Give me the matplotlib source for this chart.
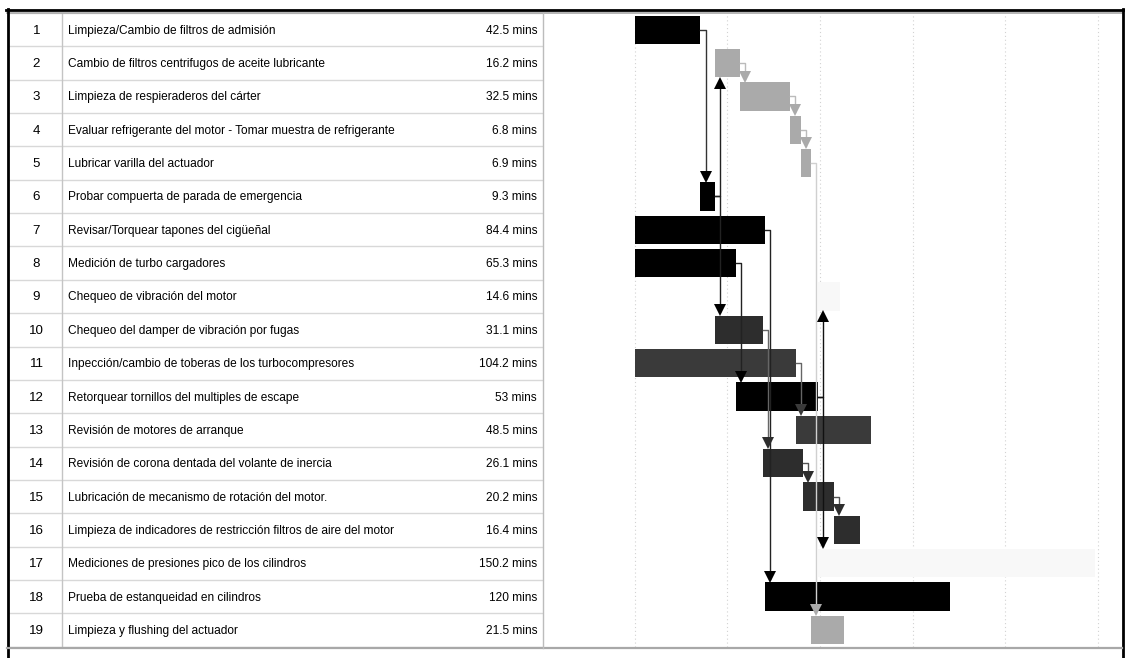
import matplotlib
matplotlib.use("Agg")
import matplotlib.pyplot as plt
from matplotlib.lines import Line2D

plt.rcParams["font.family"] = ["Liberation Sans Narrow", "Liberation Sans", "DejaVu Sans"]

task_ids = list(range(1, 20))
task_names = [
    "Limpieza/Cambio de filtros de admisión",
    "Cambio de filtros centrifugos de aceite lubricante",
    "Limpieza de respieraderos del cárter",
    "Evaluar refrigerante del motor - Tomar muestra de refrigerante",
    "Lubricar varilla del actuador",
    "Probar compuerta de parada de emergencia",
    "Revisar/Torquear tapones del cigüeñal",
    "Medición de turbo cargadores",
    "Chequeo de vibración del motor",
    "Chequeo del damper de vibración por fugas",
    "Inpección/cambio de toberas de los turbocompresores",
    "Retorquear tornillos del multiples de escape",
    "Revisión de motores de arranque",
    "Revisión de corona dentada del volante de inercia",
    "Lubricación de mecanismo de rotación del motor.",
    "Limpieza de indicadores de restricción filtros de aire del motor",
    "Mediciones de presiones pico de los cilindros",
    "Prueba de estanqueidad en cilindros",
    "Limpieza y flushing del actuador",
]
durations = [42.5, 16.2, 32.5, 6.8, 6.9, 9.3, 84.4, 65.3, 14.6, 31.1,
             104.2, 53, 48.5, 26.1, 20.2, 16.4, 150.2, 120, 21.5]
# start of each bar, minutes from the first gridline
starts = [0, 51.8, 68.0, 100.5, 107.3, 42.5, 0, 0, 118.3, 51.8,
          0, 65.3, 104.2, 82.9, 109.0, 129.2, 118.3, 84.4, 114.2]
# drawn bar length (task 17 is drawn longer than its duration)
bar_minutes = [42.5, 16.2, 32.5, 6.8, 6.9, 9.3, 84.4, 65.3, 14.6, 31.1,
               104.2, 53, 48.5, 26.1, 20.2, 16.4, 180.0, 120, 21.5]
bar_colors = ["#000000", "#aaaaaa", "#aaaaaa", "#aaaaaa", "#aaaaaa", "#000000",
              "#000000", "#000000", "#f8f8f8", "#2d2d2d", "#3a3a3a", "#000000",
              "#3a3a3a", "#2d2d2d", "#2d2d2d", "#2d2d2d", "#f8f8f8", "#000000",
              "#aaaaaa"]
# (predecessor, successor)
links = [(1, 6), (2, 3), (3, 4), (4, 5), (5, 19), (6, 2), (6, 10), (7, 18),
         (8, 12), (10, 14), (11, 13), (12, 9), (12, 17), (14, 15), (15, 16)]
link_colors = {1: "#333333", 2: "#bbbbbb", 3: "#bbbbbb", 4: "#bbbbbb", 5: "#d0d0d0",
               6: "#222222", 7: "#222222", 8: "#222222", 10: "#666666", 11: "#666666",
               12: "#111111", 14: "#555555", 15: "#555555"}

W, H = 1125, 658
fig = plt.figure(figsize=(W / 100, H / 100), dpi=100)


def fx(px):
    return px / W


def fy(py):
    return 1 - py / H


top, bottom = 13, 646.7
split = 543
left, right = 7.5, 1121.5

ax_t = fig.add_axes([fx(left), fy(bottom), fx(split - left), (bottom - top) / H])
ax_g = fig.add_axes([fx(split), fy(bottom), fx(right - split), (bottom - top) / H])

n = len(task_ids)
for ax in (ax_t, ax_g):
    ax.set_ylim(n + 0.5, 0.5)
    ax.axis("off")

# table part
ax_t.set_xlim(left, split)
for k in range(n + 1):
    ax_t.axhline(k + 0.5, color="#d8d8d8", lw=1)
ax_t.axvline(62, color="#c4c4c4", lw=1)

fs = 8.6
for i in range(n):
    r = task_ids[i]
    ax_t.text(36.5, r + 0.03, str(task_ids[i]), ha="center", va="center", fontsize=9.6)
    ax_t.text(68, r + 0.03, task_names[i], ha="left", va="center", fontsize=fs)
    ax_t.text(537, r + 0.03, f"{durations[i]:g} mins", ha="right", va="center", fontsize=fs)

# gantt part
ax_g.set_xlim(-59.5, 315.2)
for t in range(0, 301, 60):
    ax_g.axvline(t, color="#d2d2d2", lw=0.8, ls=(0, (1, 2.5)))

bh = 0.85
ax_g.barh(task_ids, bar_minutes, left=starts, height=bh, color=bar_colors, zorder=2)

gap = 3.3
ms = 8
off = 0.17
for p, s in links:
    pe = starts[p - 1] + bar_minutes[p - 1]
    x = pe + gap
    c = link_colors[p]
    ac = bar_colors[p - 1]
    if s > p:
        yend = s - bh / 2
        ax_g.plot([pe, x, x], [p, p, yend - 0.1], color=c, lw=1, zorder=3)
        ax_g.plot(x, yend - off, marker="v", ms=ms, color=ac, mec=ac, mew=0, zorder=4)
    else:
        yend = s + bh / 2
        ax_g.plot([pe, x, x], [p, p, yend + 0.1], color=c, lw=1, zorder=3)
        ax_g.plot(x, yend + off, marker="^", ms=ms, color=ac, mec=ac, mew=0, zorder=4)

# frame
fig.add_artist(Line2D([fx(6), fx(1123.5)], [fy(9.5), fy(9.5)], color="black", lw=2))
fig.add_artist(Line2D([fx(7), fx(1122)], [fy(12.7), fy(12.7)], color="#a8a8a8", lw=1.2))
fig.add_artist(Line2D([fx(7.5), fx(7.5)], [fy(8.5), 0], color="black", lw=2))
fig.add_artist(Line2D([fx(1122.5), fx(1122.5)], [fy(8.5), 0], color="black", lw=2))
fig.add_artist(Line2D([fx(7), fx(1122)], [fy(647.5), fy(647.5)], color="#a8a8a8", lw=1.6))
fig.add_artist(Line2D([fx(542.7), fx(542.7)], [fy(12.7), fy(647.5)], color="#bcbcbc", lw=1))

fig.savefig("out.png", dpi=100)
